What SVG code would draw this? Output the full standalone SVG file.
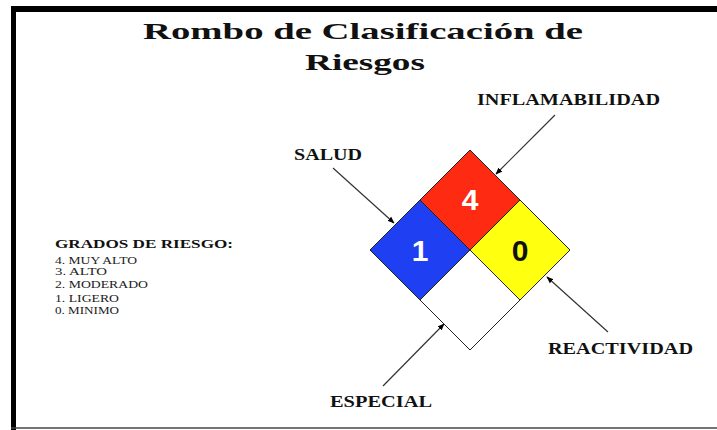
<svg xmlns="http://www.w3.org/2000/svg" width="717" height="430" viewBox="0 0 717 430">
<defs>
<marker id="ah" viewBox="0 0 10 10" refX="9" refY="5" markerWidth="7" markerHeight="7" orient="auto" markerUnits="userSpaceOnUse">
<path d="M0,1 L10,5 L0,9 z" fill="#000"/>
</marker>
</defs>
<style>
.lbl{font-family:"Liberation Serif",serif;font-weight:bold;fill:#111}
.lst{font-family:"Liberation Serif",serif;fill:#222;font-size:10px}
.num{font-family:"Liberation Sans",Arial,sans-serif;font-weight:bold;font-size:30px;text-anchor:middle}
.sq{stroke:#222;stroke-width:1}
.arr{stroke:#333;stroke-width:1.2;fill:none;marker-end:url(#ah)}
</style>
<rect width="717" height="430" fill="#fff"/>
<g id="frame">
<rect x="11" y="6" width="706" height="6" fill="#000"/>
<rect x="11" y="6" width="5" height="424" fill="#000"/>
<line x1="11" y1="428" x2="717" y2="428" stroke="#444" stroke-width="1.5"/>
</g>
<g id="title">
<text class="lbl" x="143" y="39" font-size="24" textLength="440" lengthAdjust="spacingAndGlyphs">Rombo de Clasificación de</text>
<text class="lbl" x="305" y="70" font-size="24" textLength="120" lengthAdjust="spacingAndGlyphs">Riesgos</text>
</g>
<g id="legend">
<text class="lbl" x="55" y="248" font-size="12" textLength="178" lengthAdjust="spacingAndGlyphs">GRADOS DE RIESGO:</text>
<text class="lst" x="55" y="264" textLength="82" lengthAdjust="spacingAndGlyphs">4. MUY ALTO</text>
<text class="lst" x="55" y="275" textLength="52" lengthAdjust="spacingAndGlyphs">3. ALTO</text>
<text class="lst" x="55" y="288" textLength="93" lengthAdjust="spacingAndGlyphs">2. MODERADO</text>
<text class="lst" x="55" y="302" textLength="64" lengthAdjust="spacingAndGlyphs">1. LIGERO</text>
<text class="lst" x="55" y="314" textLength="64" lengthAdjust="spacingAndGlyphs">0. MINIMO</text>
</g>
<g id="inflamabilidad">
<polygon class="sq" points="470,150 520,200 470,250 420,200" fill="#ff2a12"/>
<text class="num" x="470" y="210" fill="#fff">4</text>
</g>
<g id="salud">
<polygon class="sq" points="420,200 470,250 420,300 370,250" fill="#1f3ff2"/>
<text class="num" x="420" y="261" fill="#fff">1</text>
</g>
<g id="reactividad">
<polygon class="sq" points="520,200 570,250 520,300 470,250" fill="#ffff10"/>
<text class="num" x="520" y="261" fill="#111">0</text>
</g>
<g id="especial">
<polygon class="sq" points="470,250 520,300 470,350 420,300" fill="#fff"/>
</g>
<g id="labels">
<text class="lbl" x="294" y="160" font-size="17" textLength="68" lengthAdjust="spacingAndGlyphs">SALUD</text>
<text class="lbl" x="477" y="105" font-size="16" textLength="183" lengthAdjust="spacingAndGlyphs">INFLAMABILIDAD</text>
<text class="lbl" x="548" y="354" font-size="17" textLength="145" lengthAdjust="spacingAndGlyphs">REACTIVIDAD</text>
<text class="lbl" x="330" y="407" font-size="17" textLength="102" lengthAdjust="spacingAndGlyphs">ESPECIAL</text>
</g>
<g id="connectors">
<line class="arr" x1="333" y1="168" x2="394" y2="223"/>
<line class="arr" x1="555" y1="115" x2="496" y2="174"/>
<line class="arr" x1="608" y1="332" x2="547" y2="277"/>
<line class="arr" x1="383" y1="386" x2="444" y2="324"/>
</g>
</svg>
